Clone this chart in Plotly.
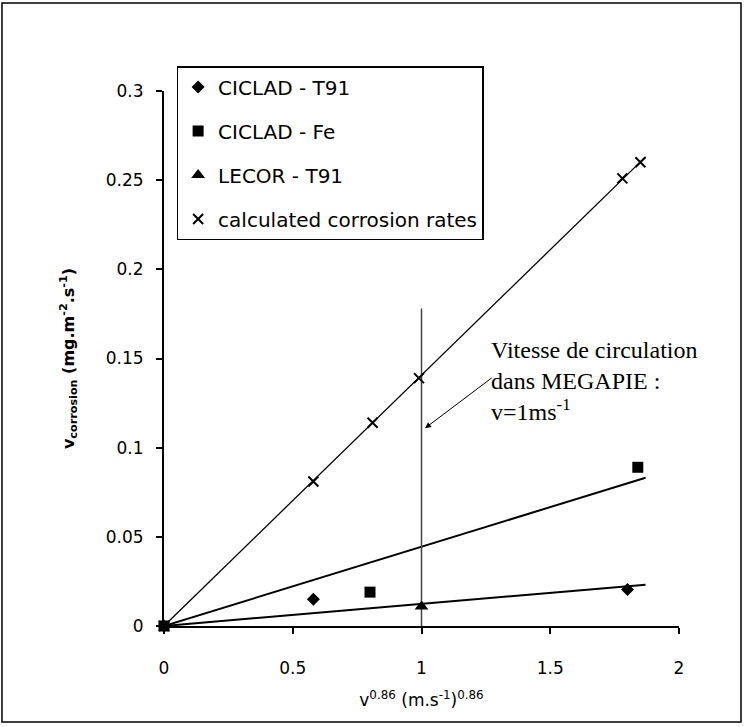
import numpy as np
import plotly.graph_objects as go

# ---- data ----
x_ciclad_t91 = [0.0, 0.58, 1.80]
y_ciclad_t91 = [0.0, 0.015, 0.0205]

x_ciclad_fe = [0.0, 0.80, 1.84]
y_ciclad_fe = [0.0, 0.019, 0.089]

x_lecor_t91 = [1.0]
y_lecor_t91 = [0.011]

x_calc = [0.0, 0.58, 0.81, 0.99, 1.78, 1.85]
y_calc = [0.0, 0.081, 0.114, 0.139, 0.251, 0.260]

series_names = ["CICLAD - T91", "CICLAD - Fe", "LECOR - T91", "calculated corrosion rates"]

megapie_v = [1.0, 1.0]
megapie_line_y = [0.0, 0.178]

x_ticks = [0, 0.5, 1, 1.5, 2]
y_ticks = [0, 0.05, 0.1, 0.15, 0.2, 0.25, 0.3]


def slope_through_origin(xs, ys):
    xs = np.asarray(xs, float)
    ys = np.asarray(ys, float)
    return float((xs * ys).sum() / (xs * xs).sum())


x_end = max(max(x_calc), max(x_ciclad_fe), max(x_ciclad_t91))
trend_x = np.array([0.0, x_end + 0.02])

k_calc = slope_through_origin(x_calc, y_calc)
k_fe = slope_through_origin(x_ciclad_fe, y_ciclad_fe)
k_t91 = slope_through_origin(x_ciclad_t91 + x_lecor_t91, y_ciclad_t91 + y_lecor_t91)

fig = go.Figure()

# trend lines
for k, w in [(k_calc, 1.3), (k_fe, 2), (k_t91, 2)]:
    fig.add_trace(go.Scatter(x=trend_x, y=k * trend_x, mode="lines",
                             line=dict(color="black", width=w),
                             showlegend=False, hoverinfo="skip"))

# vertical line at v = 1 m/s
fig.add_trace(go.Scatter(x=megapie_v, y=megapie_line_y, mode="lines",
                         line=dict(color="#444444", width=1.5),
                         showlegend=False, hoverinfo="skip"))

fig.add_trace(go.Scatter(x=x_ciclad_t91, y=y_ciclad_t91, mode="markers", name=series_names[0],
                         legendgroup="a", cliponaxis=False,
                         marker=dict(symbol="diamond", size=10, color="black")))
fig.add_trace(go.Scatter(x=x_ciclad_fe, y=y_ciclad_fe, mode="markers", name=series_names[1],
                         legendgroup="b", cliponaxis=False,
                         marker=dict(symbol="square", size=11, color="black")))
fig.add_trace(go.Scatter(x=x_lecor_t91, y=y_lecor_t91, mode="markers", name=series_names[2],
                         legendgroup="c", cliponaxis=False,
                         marker=dict(symbol="triangle-up", size=12, color="black")))
fig.add_trace(go.Scatter(x=x_calc, y=y_calc, mode="markers", name=series_names[3],
                         legendgroup="d", cliponaxis=False,
                         marker=dict(symbol="x-thin", size=10, color="black",
                                     line=dict(color="black", width=2))))

# arrow + annotation text
fig.add_annotation(x=1.0136, y=0.1109, ax=1.279, ay=0.1398, xref="x", yref="y",
                   axref="x", ayref="y", text="", showarrow=True,
                   arrowhead=2, arrowsize=1.2, arrowwidth=1, arrowcolor="black")
fig.add_annotation(x=1.262, y=0.1374, xref="x", yref="y", xanchor="left", yanchor="middle",
                   align="left", showarrow=False,
                   text="Vitesse de circulation<br>dans MEGAPIE :<br>v=1ms<sup>-1</sup>",
                   font=dict(family="Liberation Serif", size=24, color="black"))

# outer frame
fig.add_shape(type="rect", xref="paper", yref="paper",
              x0=-0.3146, x1=1.1204, y0=-0.1794, y1=1.1645,
              line=dict(color="black", width=1.5), fillcolor="rgba(0,0,0,0)")

axis_common = dict(showline=True, linecolor="black", linewidth=2, ticks="outside",
                   ticklen=6, tickwidth=2, tickcolor="black", showgrid=False,
                   zeroline=False, mirror=False,
                   tickfont=dict(family="DejaVu Sans", size=17, color="black"))

fig.update_layout(
    width=744, height=727,
    margin=dict(l=164, r=65, t=91, b=101, autoexpand=False),
    paper_bgcolor="white", plot_bgcolor="white",
    font=dict(family="DejaVu Sans", color="black"),
    xaxis=dict(range=[0, 2], tickvals=x_ticks, ticktext=[str(t) for t in x_ticks],
               ticklabelstandoff=20,
               title=dict(text="v<sup>0.86</sup> (m.s<sup>-1</sup>)<sup>0.86</sup>",
                          font=dict(family="DejaVu Sans", size=17), standoff=17),
               **axis_common),
    yaxis=dict(range=[0, 0.3], tickvals=y_ticks, ticktext=[f"{t:g}" for t in y_ticks],
               ticklabelstandoff=9,
               title=dict(text="<b>v<sub>corrosion</sub> (mg.m<sup>-2</sup>.s<sup>-1</sup>)</b>",
                          font=dict(family="DejaVu Sans", size=16), standoff=27),
               **axis_common),
    showlegend=True,
    legend=dict(x=0.0245, y=1.0467, xanchor="left", yanchor="top",
                bgcolor="white", bordercolor="black", borderwidth=1.5,
                tracegroupgap=15, traceorder="grouped",
                font=dict(family="DejaVu Sans", size=20, color="black")),
)

fig.write_html("out.html", config={"displayModeBar": False},
               post_script="document.body.style.margin='0px';document.body.style.overflow='hidden';")
